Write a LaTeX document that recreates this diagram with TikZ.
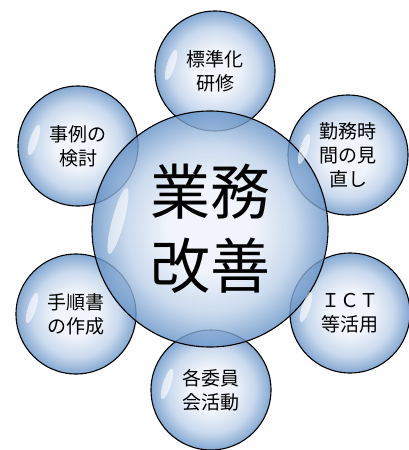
\documentclass[tikz,border=0pt]{standalone}
\usepackage{fontspec}
\setmainfont{Noto Sans CJK JP}
\definecolor{glassin}{HTML}{EEF2FA}
\definecolor{glassmid}{HTML}{BCD0E9}
\definecolor{glassrim}{HTML}{6592C6}
\pgfdeclareradialshading{glassball}{\pgfpoint{0bp}{0bp}}{color(0bp)=(glassin); color(9bp)=(glassin); color(18bp)=(glassmid); color(25bp)=(glassrim); color(50bp)=(glassrim)}

\begin{document}
\begin{tikzpicture}[x=1pt, y=-1pt,
    bub/.style={circle, draw=black, line width=1.1pt, shading=glassball, fill opacity=0.8, text opacity=1, minimum size=120pt, inner sep=0pt, align=center, font=\fontsize{19}{24}\selectfont},
    hub/.style={bub, minimum size=236pt, font=\fontsize{60}{74}\selectfont},
    shine/.style={white, opacity=0.6}]
    \useasboundingbox (0,0) rectangle (408,450);
    \node [bub] (kenshu) at (215,71) {標準化\\研修};
    \node [bub] (kinmu) at (348,155) {勤務時\\間の見\\直し};
    \node [bub] (ict) at (350,313) {ＩＣＴ\\等活用};
    \node [bub] (iinkai) at (211,390) {各委員\\会活動};
    \node [bub] (tejun) at (76,314) {手順書\\の作成};
    \node [bub] (jirei) at (78,146) {事例の\\検討};
    \node [hub] (kaizen) at (210,229) {業務\\改善};
    % glare on the left of every ball
    \foreach \b in {kenshu, kinmu, ict, iinkai, tejun, jirei}
        \fill [shine] ([xshift=-44pt, yshift=6pt]\b.center) ellipse [x radius=4pt, y radius=16pt, rotate=-18];
    \fill [shine] ([xshift=-92pt, yshift=8pt]kaizen.center) ellipse [x radius=6pt, y radius=34pt, rotate=-15];
\end{tikzpicture}
\end{document}
